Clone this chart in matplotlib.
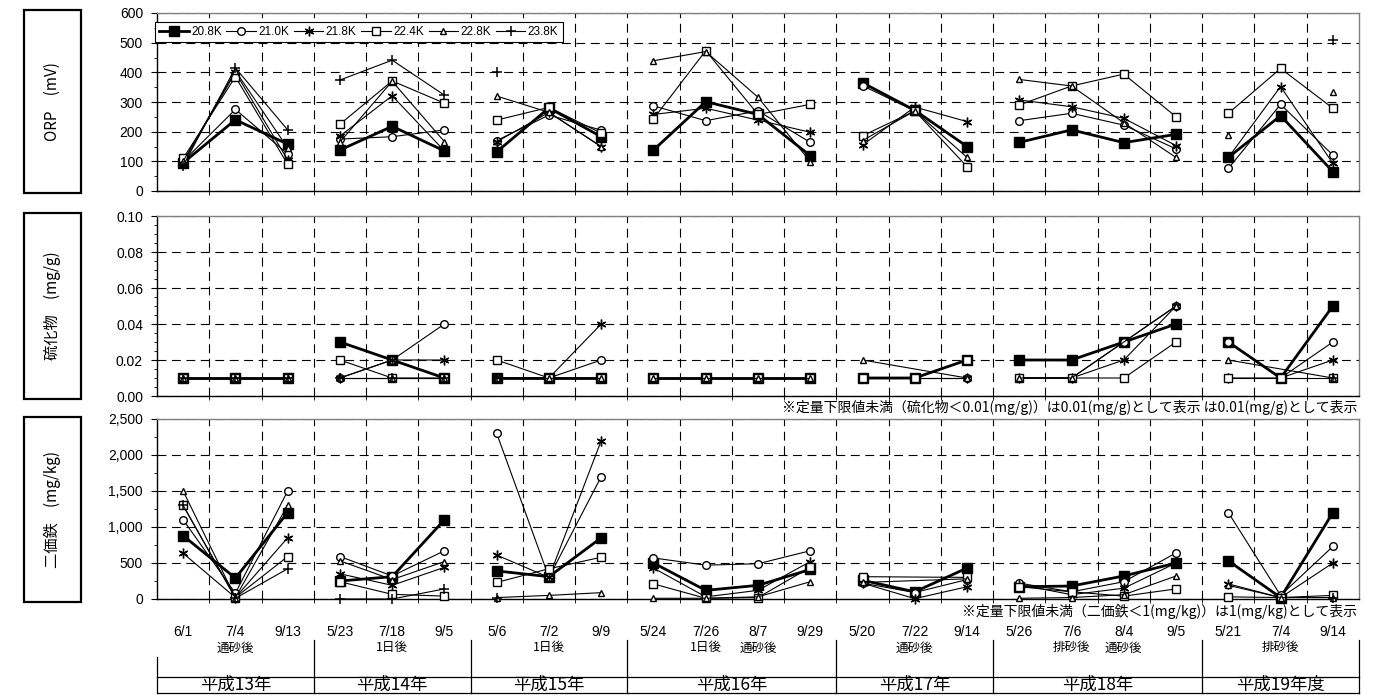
import numpy as np
import matplotlib
matplotlib.use("Agg")
import matplotlib.pyplot as plt
from matplotlib.patches import Rectangle
from matplotlib.lines import Line2D
from matplotlib.ticker import FuncFormatter, MultipleLocator
from matplotlib.transforms import blended_transform_factory

plt.rcParams['font.family'] = ['Liberation Sans', 'Noto Sans CJK JP']
JP = ['Noto Sans CJK JP', 'DejaVu Sans']

W, H = 1383, 695
N = np.nan

# sampling dates, grouped by year
dates = ['6/1', '7/4', '9/13',
         '5/23', '7/18', '9/5',
         '5/6', '7/2', '9/9',
         '5/24', '7/26', '8/7', '9/29',
         '5/20', '7/22', '9/14',
         '5/26', '7/6', '8/4', '9/5',
         '5/21', '7/4', '9/14']
group_sizes = [3, 3, 3, 4, 3, 4, 3]
years = ['平成13年', '平成14年', '平成15年', '平成16年', '平成17年', '平成18年', '平成19年度']
# notes under particular dates (index -> text)
events = {1: '通砂後', 4: '1日後', 7: '1日後', 10: '1日後', 11: '通砂後',
          14: '通砂後', 17: '排砂後', 18: '通砂後', 21: '排砂後'}

stations = ['20.8K', '21.0K', '21.8K', '22.4K', '22.8K', '23.8K']

# ORP (mV)
orp_208 = [95, 240, 158, 138, 218, 135, 132, 280, 183, 138, 301, 258, 119, 365, 272, 150, 164, 206, 163, 191, 113, 254, 65]
orp_210 = [100, 275, 125, 175, 183, 206, 170, 256, 205, 287, 237, 270, 164, 355, 270, N, 237, 262, 222, 142, 76, 292, 121]
orp_218 = [95, 400, 105, 185, 321, 135, 166, 265, 149, 258, 279, 239, 198, 155, 283, 234, 307, 284, 245, 153, 113, 352, 93]
orp_224 = [110, 385, 90, 225, 371, 296, 239, 282, 195, 243, 473, 258, 292, 186, 270, 82, 290, 354, 394, 250, 262, 413, 279]
orp_228 = [100, 405, 145, 165, 370, 166, 320, 265, 150, 439, 470, 316, 99, 170, 270, 113, 376, 354, 230, 113, 189, N, 335]
orp_238 = [85, 415, 206, 374, 441, 323, 402, N, N, N, N, N, N, N, N, N, N, N, N, N, N, N, 509]

# 硫化物 (mg/g)
sul_208 = [.01, .01, .01, .03, .02, .01, .01, .01, .01, .01, .01, .01, .01, .01, .01, .02, .02, .02, .03, .04, .03, .01, .05]
sul_210 = [.01, .01, .01, .01, .02, .04, .01, .01, .02, .01, .01, .01, .01, .01, .01, .01, .01, .01, .03, .05, .03, .01, .03]
sul_218 = [.01, .01, .01, .01, .02, .02, .01, .01, .04, .01, .01, .01, .01, .01, .01, .01, .01, .01, .02, .05, .01, .01, .02]
sul_224 = [.01, .01, .01, .02, .01, .01, .02, .01, .01, .01, .01, .01, .01, .01, .01, .02, .01, .01, .01, .03, .01, .01, .01]
sul_228 = [.01, .01, .01, .01, .01, .01, .01, .01, .01, .01, .01, .01, .01, .02, N, .01, .01, .01, N, .05, .02, N, .01]
sul_238 = [.01, .01, .01, .01, .01, .01, .01, N, N, N, N, N, N, N, N, N, N, N, N, N, N, N, .01]

# 二価鉄 (mg/kg)
fe_208 = [880, 290, 1200, 250, 310, 1100, 390, 310, 850, 500, 120, 190, 410, 260, 100, 430, 170, 180, 320, 500, 530, 20, 1200]
fe_210 = [1100, 80, 1500, 590, 320, 670, 2300, 300, 1700, 570, 470, 490, 670, 220, 90, 270, 220, 100, 240, 640, 1200, 50, 730]
fe_218 = [635, 20, 850, 350, 190, 440, 610, 300, 2200, 430, 30, 120, 520, 220, 5, 170, 200, 60, 150, 500, 210, 20, 500]
fe_224 = [1300, 20, 590, 240, 65, 40, 230, 420, 580, 210, 10, 20, 440, 310, N, 300, 170, 100, 40, 140, 30, 20, 50]
fe_228 = [1500, 20, 1300, 530, 270, 520, 20, 50, 88, 10, 10, 30, 240, 230, N, 280, 10, 20, 60, 320, 190, 20, 20]
fe_238 = [1300, 10, 420, 0, 0, 140, 10, N, N, N, N, N, N, N, N, N, N, N, N, N, N, N, 20]

styles = [
    dict(marker='s', ms=7, mfc='black', lw=2.0),
    dict(marker='o', ms=5.5, mfc='white', lw=0.8),
    dict(marker=(6, 2, 0), ms=7, mfc='white', lw=0.8, mew=1.0),
    dict(marker='s', ms=5.5, mfc='white', lw=0.8),
    dict(marker='^', ms=5, mfc='white', lw=0.8),
    dict(marker='+', ms=7, mfc='white', lw=0.8, mew=1.1),
]


def fig_rect(left, top, right, bottom):
    return [left / W, 1 - bottom / H, (right - left) / W, (bottom - top) / H]


def draw_panel(ax, series, connect_gaps):
    x = np.arange(len(dates))
    bounds = np.cumsum([0] + group_sizes)
    for k, vals in enumerate(series):
        vals = np.array(vals, dtype=float)
        for g in range(len(group_sizes)):
            xs = x[bounds[g]:bounds[g + 1]]
            ys = vals[bounds[g]:bounds[g + 1]]
            if connect_gaps:
                keep = ~np.isnan(ys)
                xs, ys = xs[keep], ys[keep]
            if len(xs) == 0 or np.all(np.isnan(ys)):
                continue
            ax.plot(xs, ys, color='black', mec='black', clip_on=False,
                    zorder=3 + k, **styles[k])
    ax.set_xlim(-0.5, len(dates) - 0.5)
    ax.set_xticks([])
    ax.set_xticks(np.arange(0.5, len(dates) - 0.5), minor=True)
    ax.tick_params(axis='x', which='minor', length=3, direction='out', labelbottom=False)
    ax.grid(True, which='minor', axis='x', color='black', lw=0.8, ls=(0, (8, 5)))
    ax.grid(True, which='major', axis='y', color='black', lw=0.8, ls=(0, (8, 5)))
    ax.tick_params(axis='y', which='major', length=4, labelsize=10, pad=6)
    ax.tick_params(axis='y', which='minor', length=2)
    for s in ['top', 'right']:
        ax.spines[s].set_color('#808080')
        ax.spines[s].set_linewidth(1.0)
    for s in ['left', 'bottom']:
        ax.spines[s].set_color('black')
        ax.spines[s].set_linewidth(1.0)
    ax.set_axisbelow(True)


fig = plt.figure(figsize=(W / 100, H / 100), dpi=100)

ax1 = fig.add_axes(fig_rect(157, 13, 1359, 191))
draw_panel(ax1, [orp_208, orp_210, orp_218, orp_224, orp_228, orp_238], False)
ax1.set_ylim(0, 600)
ax1.yaxis.set_major_locator(MultipleLocator(100))
ax1.yaxis.set_minor_locator(MultipleLocator(50))

ax2 = fig.add_axes(fig_rect(157, 216, 1359, 396))
draw_panel(ax2, [sul_208, sul_210, sul_218, sul_224, sul_228, sul_238], True)
ax2.set_ylim(0, 0.10)
ax2.yaxis.set_major_locator(MultipleLocator(0.02))
ax2.yaxis.set_minor_locator(MultipleLocator(0.005))
ax2.yaxis.set_major_formatter(FuncFormatter(lambda v, p: f'{v:.2f}'))

ax3 = fig.add_axes(fig_rect(157, 419, 1359, 599))
draw_panel(ax3, [fe_208, fe_210, fe_218, fe_224, fe_228, fe_238], True)
ax3.set_ylim(0, 2500)
ax3.yaxis.set_major_locator(MultipleLocator(500))
ax3.yaxis.set_minor_locator(MultipleLocator(250))
ax3.yaxis.set_major_formatter(FuncFormatter(lambda v, p: f'{v:,.0f}'))

# legend across the top of the ORP panel
handles = [Line2D([], [], color='black', mec='black', **st) for st in styles]
leg = ax1.legend(handles, stations, loc='upper left', ncol=6,
                 bbox_to_anchor=(155 / W, 1 - 22 / H), bbox_transform=fig.transFigure,
                 fontsize=8.5, handlelength=2.5, handletextpad=0.2, columnspacing=0.4,
                 borderpad=0.35, borderaxespad=0, fancybox=False, framealpha=1,
                 edgecolor='black')
leg.get_frame().set_linewidth(0.8)
leg.set_zorder(20)

# boxed axis titles on the left
titles = [('ORP　(mV)', 10, 193), ('硫化物　(mg/g)', 213, 399), ('二価鉄　(mg/kg)', 417, 602)]
for text, top, bottom in titles:
    fig.patches.append(Rectangle((24 / W, 1 - bottom / H), 57 / W, (bottom - top) / H,
                                 transform=fig.transFigure, fill=False,
                                 edgecolor='black', lw=1.6))
    fig.text(52.5 / W, 1 - (top + bottom) / 2 / H, text, rotation=90,
             ha='center', va='center', fontsize=11, family=JP)

# detection limit notes
fig.text(1357 / W, 1 - 407 / H,
         '※定量下限値未満（硫化物＜0.01(mg/g)）は0.01(mg/g)として表示 は0.01(mg/g)として表示',
         ha='right', va='center', fontsize=10, family=JP)
fig.text(1357 / W, 1 - 611 / H,
         '※定量下限値未満（二価鉄＜1(mg/kg)）は1(mg/kg)として表示',
         ha='right', va='center', fontsize=10, family=JP)

# date / event / year table under the bottom panel
tr = blended_transform_factory(ax3.transData, fig.transFigure)
for i, d in enumerate(dates):
    fig.text(i, 1 - 632 / H, d, transform=tr, ha='center', va='center', fontsize=10)
for i, ev in events.items():
    fig.text(i, 1 - 648 / H, ev, transform=tr, ha='center', va='center', fontsize=9, family=JP)

bounds = np.cumsum([0] + group_sizes) - 0.5
for j, b in enumerate(bounds):
    top = 657 if j == 0 else 640
    fig.add_artist(Line2D([b, b], [1 - top / H, 1 - 693 / H], transform=tr,
                          color='black', lw=0.9))
fig.add_artist(Line2D([bounds[0], bounds[-1]], [1 - 677 / H, 1 - 677 / H],
                      transform=tr, color='black', lw=0.9))
fig.add_artist(Line2D([bounds[0], bounds[-1]], [1 - 693 / H, 1 - 693 / H],
                      transform=tr, color='black', lw=0.9))
for j, y in enumerate(years):
    mid = (bounds[j] + bounds[j + 1]) / 2
    fig.text(mid, 1 - 685 / H, y, transform=tr, ha='center', va='center', fontsize=12.5, family=JP)

fig.savefig('out.png', dpi=100, facecolor='white')
